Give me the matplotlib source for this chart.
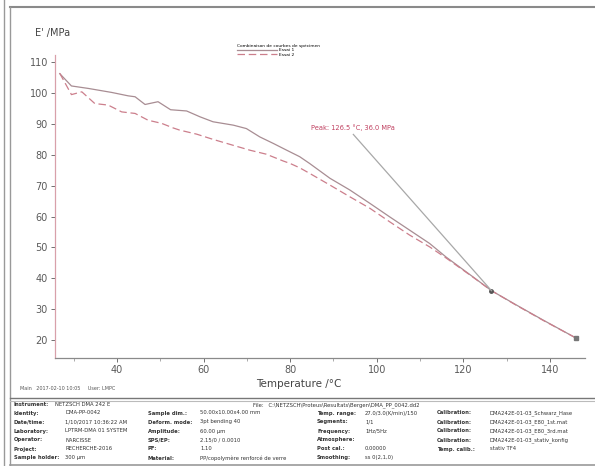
import matplotlib.pyplot as plt
from matplotlib.lines import Line2D

# storage modulus E' (MPa) vs temperature (degC), two runs
temp_1 = [26.8, 29.5, 33.4, 38.8, 42.6, 44.2, 46.5, 49.5, 52.4, 56.1, 59.2, 62.2,
          66.9, 69.9, 73.0, 76.1, 79.2, 82.2, 84.5, 89.2, 93.8, 98.4, 103.0,
          107.6, 112.2, 116.1, 122.2, 126.5, 132.2, 138.4, 146.1]
mod_1 = [106.3, 102.3, 101.5, 100.2, 99.1, 98.8, 96.3, 97.2, 94.6, 94.2, 92.3, 90.7,
         89.6, 88.5, 85.8, 83.7, 81.5, 79.4, 77.2, 72.4, 68.6, 64.3, 59.9,
         55.6, 51.3, 46.8, 40.5, 36.0, 31.4, 26.5, 20.6]

temp_2 = [26.8, 29.5, 31.9, 34.9, 38.0, 41.1, 44.2, 47.2, 50.3, 53.0, 54.5, 58.4,
          62.2, 66.8, 70.7, 74.5, 78.4, 80.0, 82.2, 84.5, 89.2, 93.8, 98.4,
          103.0, 107.6, 112.2, 116.1, 122.2, 126.5, 132.2, 138.4, 146.1]
mod_2 = [106.4, 99.5, 100.4, 96.6, 96.1, 93.9, 93.4, 91.2, 90.2, 88.7, 88.0, 86.7,
         85.0, 83.1, 81.5, 80.2, 78.0, 77.2, 75.8, 74.0, 70.2, 66.4, 62.7,
         58.3, 54.0, 50.2, 46.5, 40.4, 36.0, 31.3, 26.4, 20.6]

peak_t, peak_e = 126.5, 36.0
end_t, end_e = 146.1, 20.6
label_t, label_e = 94.6, 86.6

x_ticks = [40, 60, 80, 100, 120, 140]
x_minor = [30, 50, 70, 90, 110, 130]
y_ticks = [20, 30, 40, 50, 60, 70, 80, 90, 100, 110]

info_rows = [
    ("Identity:", "DMA-PP-0042", "Sample dim.:", "50.00x10.00x4.00 mm",
     "Temp. range:", "27.0/3.0(K/min)/150", "Calibration:", "DMA242E-01-03_Schwarz_Hase"),
    ("Date/time:", "1/10/2017 10:36:22 AM", "Deform. mode:", "3pt bending 40",
     "Segments:", "1/1", "Calibration:", "DMA242E-01-03_E80_1st.mat"),
    ("Laboratory:", "LPTRM-DMA 01 SYSTEM", "Amplitude:", "60.00 \u00b5m",
     "Frequency:", "1Hz/5Hz", "Calibration:", "DMA242E-01-03_E80_3rd.mat"),
    ("Operator:", "NARCISSE", "SPS/EP:", "2.15/0 / 0.0010",
     "Atmosphere:", "", "Calibration:", "DMA242E-01-03_stativ_konfig"),
    ("Project:", "RECHERCHE-2016", "PF:", "1.10",
     "Post cal.:", "0.00000", "Temp. calib.:", "stativ TF4"),
    ("Sample holder:", "300 \u00b5m", "Material:", "PP/copolym\u00e8re renforc\u00e9 de verre",
     "Smoothing:", "ss 0(2,1,0)", "", ""),
]

fig = plt.figure(figsize=(5.95, 4.66), dpi=100)
ax = fig.add_axes([0.0924, 0.2318, 0.8908, 0.650])

ax.plot(temp_1, mod_1, color='#a88d93', lw=0.9, label='Essai 1')
ax.plot(temp_2, mod_2, color='#cc7f8c', lw=0.9, dashes=(6, 3), label='Essai 2')
ax.plot([peak_t], [peak_e], 'o', ms=2.5, color='#555555')
ax.plot([end_t], [end_e], 's', ms=3, color='#777777')

# peak annotation with leader line
ax.plot([label_t, peak_t], [label_e, peak_e], color='#a8a8a8', lw=0.9)
ax.text(label_t, label_e + 1.2, f"Peak: {peak_t:.1f} \u00b0C, {peak_e:.1f} MPa",
        color='#c04060', fontsize=4.8, ha='center', va='bottom')

ax.set_xlim(25.7, 148.1)
ax.set_ylim(14.2, 112.3)
ax.set_xticks(x_ticks)
ax.set_xticks(x_minor, minor=True)
ax.set_yticks(y_ticks)
ax.tick_params(axis='both', labelsize=7, colors='#5a5a5a', length=3, width=0.6, pad=2)
ax.tick_params(axis='x', which='minor', length=2, width=0.5, colors='#888888')
ax.spines['top'].set_visible(False)
ax.spines['right'].set_visible(False)
ax.spines['left'].set_color('#d8a0aa')
ax.spines['bottom'].set_color('#8a8a8a')
ax.spines['left'].set_linewidth(0.9)
ax.spines['bottom'].set_linewidth(0.9)

ax.set_xlabel('Temperature /\u00b0C', fontsize=7.5, color='#444444', labelpad=3)
ax.xaxis.set_label_coords(0.46, -0.07)
fig.text(35 / 595, 1 - 33 / 466, "E' /MPa", fontsize=7, color='#444444', va='center')

leg = ax.legend(title='Combinaison de courbes de sp\u00e9cimen', fontsize=3.2,
                title_fontsize=3.2, loc='upper left', bbox_to_anchor=(0.34, 1.045),
                frameon=False, handlelength=9, borderpad=0, labelspacing=0.1,
                alignment='left', handletextpad=0.4)

# report frame
def hline(y, x0, x1, color='#888888', lw=1.0):
    fig.add_artist(Line2D([x0 / 595, x1 / 595], [1 - y / 466, 1 - y / 466],
                          color=color, lw=lw))

def vline(x, y0, y1, color='#888888', lw=1.0):
    fig.add_artist(Line2D([x / 595, x / 595], [1 - y0 / 466, 1 - y1 / 466],
                          color=color, lw=lw))

hline(7, 10, 595, '#8a8a8a', 1.5)
vline(4, 0, 466, '#999999', 1.0)
vline(10, 7, 466, '#999999', 1.0)
hline(398, 10, 595, '#777777', 1.0)
hline(401, 10, 595, '#bbbbbb', 0.8)
hline(465, 10, 595, '#999999', 1.2)

fig.text(20 / 595, 1 - 388 / 466, "Main   2017-02-10 10:05     User: LMPC", fontsize=3.5,
         color='#555555', va='center')

fig.text(14 / 595, 1 - 405 / 466, "Instrument:", fontsize=3.8, color='#333333',
         va='center', fontweight='bold')
fig.text(55 / 595, 1 - 405 / 466, "NETZSCH DMA 242 E", fontsize=3.8, color='#333333',
         va='center')
fig.text(253 / 595, 1 - 405 / 466, "File:   C:\\NETZSCH\\Proteus\\Resultats\\Bergen\\DMA_PP_0042.dd2",
         fontsize=3.8, color='#333333', va='center')

col_x = [14, 65, 148, 200, 317, 365, 437, 490]
row_y = [413, 422, 431, 440, 449, 458]
for row, y in zip(info_rows, row_y):
    for i, (cx, txt) in enumerate(zip(col_x, row)):
        fig.text(cx / 595, 1 - y / 466, txt, fontsize=3.8, color='#333333', va='center',
                 fontweight='bold' if i % 2 == 0 else 'normal')

fig.savefig('out.png', dpi=100)
